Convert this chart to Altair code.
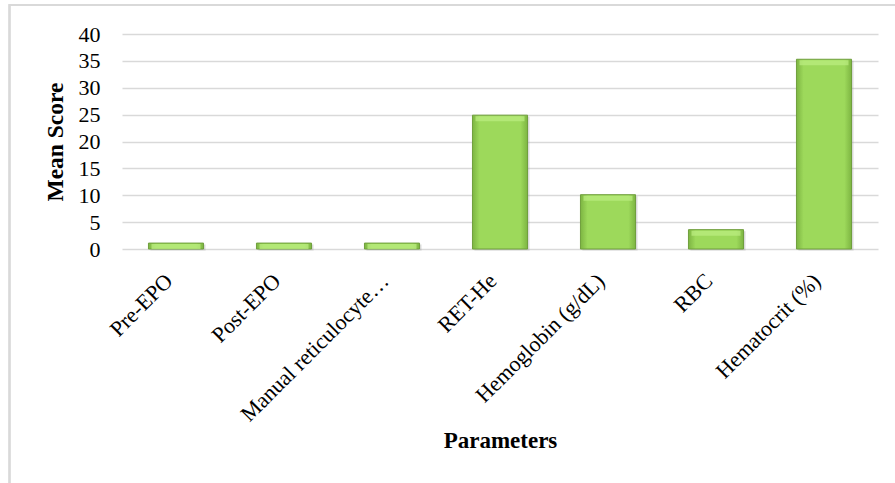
import altair as alt
import pandas as pd

categories = ["Pre-EPO", "Post-EPO", "Manual reticulocyte…", "RET-He",
              "Hemoglobin (g/dL)", "RBC", "Hematocrit (%)"]
values = [1.1, 1.1, 1.1, 24.9, 10.1, 3.6, 35.3]
y_ticks = [0, 5, 10, 15, 20, 25, 30, 35, 40]

df = pd.DataFrame({"Parameter": categories, "Mean": values})

FONT = "Liberation Serif"
W, H = 756, 215

grad = alt.Gradient(
    gradient="linear", x1=0, x2=1, y1=0, y2=0,
    stops=[
        alt.GradientStop(color="#7db542", offset=0),
        alt.GradientStop(color="#9dd95b", offset=0.13),
        alt.GradientStop(color="#9dd95b", offset=0.87),
        alt.GradientStop(color="#7db542", offset=1),
    ],
)

x_enc = alt.X(
    "Parameter:N", sort=categories,
    scale=alt.Scale(paddingInner=0.49, paddingOuter=0.245),
    axis=alt.Axis(
        title="Parameters", labelAngle=-45, labelAlign="right",
        labelBaseline="middle", labelPadding=28, labelOffset=-7,
        ticks=False, tickSize=0, domain=False, grid=False,
        labelFont=FONT, labelFontSize=22, labelColor="black",
        titleFont=FONT, titleFontSize=23, titleFontWeight="bold",
        titleColor="black", titleX=378, titleY=198,
        titleBaseline="alphabetic", titleAlign="center",
        labelLimit=400, labelOverlap=False,
    ),
)
y_enc = alt.Y(
    "Mean:Q", scale=alt.Scale(domain=[0, 40], nice=False),
    axis=alt.Axis(
        title="Mean Score", values=y_ticks, ticks=False, tickSize=0,
        domain=False, labelPadding=22, labelOverlap=False,
        labelFont=FONT, labelFontSize=22, labelColor="black",
        titleFont=FONT, titleFontSize=23.5, titleFontWeight="bold",
        titleColor="black", titleX=-67, titleY=H / 2,
        titleBaseline="middle", titleAlign="center", titleAngle=-90,
        gridColor="#d9d9d9", gridWidth=1.4,
    ),
)

frame = alt.Chart(df).mark_rect(
    fill=None, stroke="#d9d9d9", strokeWidth=1.5
).encode(
    x=alt.value(9.5 - 122), x2=alt.value(1000),
    y=alt.value(5 - 34), y2=alt.value(600),
)

shadow = alt.Chart(df).mark_bar(
    color="#9a9a9a", opacity=0.35, xOffset=2, yOffset=1.5
).encode(x=x_enc, y=y_enc)

bars = alt.Chart(df).mark_bar(
    fill=grad, stroke="#6f9e3c", strokeWidth=1
).encode(x=x_enc, y=y_enc)

bevel = alt.Chart(df).mark_tick(
    color="#bcee82", thickness=5, size=49, yOffset=3.5
).encode(x=x_enc, y=y_enc)

chart = alt.layer(frame, shadow, bars, bevel).properties(
    width=W, height=H,
    autosize=alt.AutoSizeParams(type="none"),
    padding={"left": 122, "top": 34, "right": 17, "bottom": 234},
).configure_view(stroke=None)

chart.save("out.html", embed_options={"renderer": "svg", "actions": False})
